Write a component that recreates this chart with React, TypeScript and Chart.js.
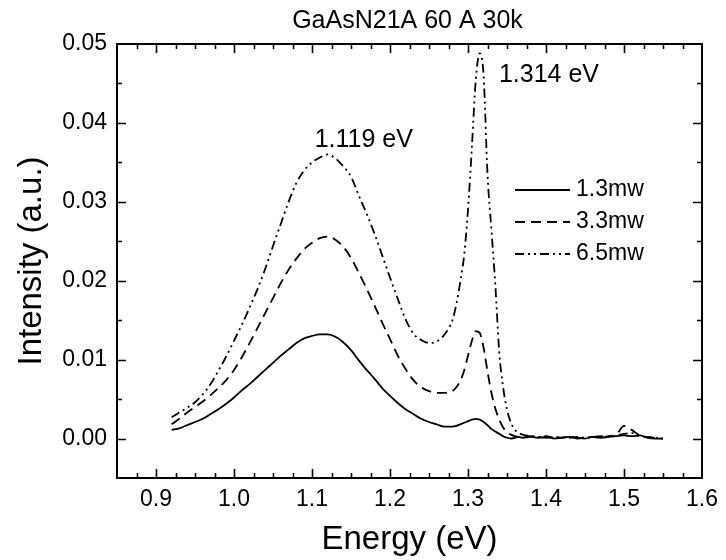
import React, { useEffect, useRef } from "react";
import { Chart, registerables } from "chart.js";

Chart.register(...registerables);

// Photon energy (eV); denser sampling across the sharp 1.31 eV line
const energy = [
  0.92, 0.93, 0.94, 0.95, 0.96, 0.97, 0.98, 0.99, 1.0, 1.01,
  1.02, 1.03, 1.04, 1.05, 1.06, 1.07, 1.08, 1.09, 1.1, 1.11,
  1.12, 1.13, 1.14, 1.15, 1.16, 1.17, 1.18, 1.19, 1.2, 1.21,
  1.22, 1.23, 1.24, 1.25, 1.26, 1.27, 1.28, 1.285, 1.29, 1.295,
  1.3, 1.305, 1.31, 1.315, 1.32, 1.325, 1.33, 1.335, 1.34, 1.345,
  1.35, 1.355, 1.36, 1.365, 1.37, 1.38, 1.39, 1.4, 1.41, 1.42,
  1.43, 1.44, 1.45, 1.46, 1.47, 1.48, 1.49, 1.5, 1.51, 1.52,
  1.53, 1.54, 1.55,
];

// PL intensity (a.u.) at 1.3 mW
const pl13 = [
  0.0011, 0.0013, 0.0017, 0.0021, 0.0025, 0.0031, 0.0037, 0.0044, 0.0052, 0.0061,
  0.0069, 0.0078, 0.0087, 0.0096, 0.0105, 0.0113, 0.0121, 0.0127, 0.013, 0.0132,
  0.0132, 0.0129, 0.0122, 0.0112, 0.0099, 0.0087, 0.0076, 0.0064, 0.0054, 0.0045,
  0.0037, 0.0031, 0.0025, 0.0021, 0.0018, 0.0015, 0.0015, 0.0016, 0.0018, 0.002,
  0.0022, 0.0024, 0.0025, 0.0024, 0.0021, 0.0017, 0.0012, 0.0009, 0.0006, 0.0003,
  0.0001, 0.0, 0.0001, 0.0002, 0.0001, 0.0002, 0.0001, 0.0002, 0.0, 0.0001,
  0.0002, 0.0001, 0.0, 0.0002, 0.0001, 0.0002, 0.0003, 0.0004, 0.0003, 0.0004,
  0.0001, 0.0, 0.0,
];

// PL intensity (a.u.) at 3.3 mW
const pl33 = [
  0.0018, 0.0025, 0.0033, 0.004, 0.0047, 0.0055, 0.0064, 0.0074, 0.0087, 0.0103,
  0.0121, 0.014, 0.0159, 0.0178, 0.0197, 0.0214, 0.0228, 0.024, 0.0248, 0.0254,
  0.0256, 0.0252, 0.0243, 0.0229, 0.021, 0.019, 0.0169, 0.0147, 0.0126, 0.0105,
  0.0088, 0.0074, 0.0065, 0.006, 0.0058, 0.0058, 0.006, 0.0065, 0.0073, 0.0086,
  0.0105, 0.0124, 0.0136, 0.0134, 0.0115, 0.0085, 0.0058, 0.0038, 0.0024, 0.0014,
  0.0008, 0.0005, 0.0003, 0.0002, 0.0002, 0.0003, 0.0002, 0.0001, 0.0002, 0.0001,
  0.0002, 0.0, 0.0001, 0.0002, 0.0001, 0.0003, 0.0005, 0.0016, 0.0011, 0.0004,
  0.0002, 0.0001, 0.0,
];

// PL intensity (a.u.) at 6.5 mW
const pl65 = [
  0.0027, 0.0033, 0.0039, 0.0046, 0.0056, 0.0069, 0.0086, 0.0104, 0.0124, 0.0144,
  0.0166, 0.0189, 0.0215, 0.0244, 0.0272, 0.03, 0.0324, 0.034, 0.035, 0.0356,
  0.036, 0.0355, 0.0345, 0.0332, 0.0308, 0.0285, 0.026, 0.0232, 0.0204, 0.0177,
  0.0151, 0.0133, 0.0125, 0.0121, 0.0123, 0.0132, 0.015, 0.017, 0.0198, 0.0232,
  0.029, 0.037, 0.0455, 0.0488, 0.046, 0.0335, 0.0265, 0.0195, 0.011, 0.0065,
  0.0037, 0.002, 0.0011, 0.0007, 0.0005, 0.0003, 0.0002, 0.0003, 0.0001, 0.0002,
  0.0001, 0.0002, 0.0001, 0.0002, 0.0003, 0.0002, 0.0004, 0.0006, 0.0007, 0.0003,
  0.0002, 0.0001, 0.0,
];

const seriesLabels = ["1.3mw", "3.3mw", "6.5mw"];
const peakEnergies = [1.119, 1.314];
const peakIntensities = [0.036, 0.0488];
const peakTexts = ["1.119 eV", "1.314 eV"];
const chartTitle = "GaAsN21A 60 A 30k";

const FONT = "'Liberation Sans', Arial, Helvetica, sans-serif";
const dashStyles: number[][] = [[], [10, 6], [9, 4, 2, 4, 2, 4]];

const framePlugin = {
  id: "originFrame",
  afterDraw(chart: any) {
    const { ctx, chartArea } = chart;
    const { left, right, top, bottom } = chartArea;
    const xs = chart.scales.x;
    const ys = chart.scales.y;
    ctx.save();
    ctx.strokeStyle = "#000";
    ctx.fillStyle = "#000";

    // inward ticks on all four sides
    ctx.lineWidth = 1.6;
    ctx.setLineDash([]);
    ctx.beginPath();
    for (let i = 1; i < 30; i++) {
      const v = 0.85 + i * 0.025;
      const px = Math.round(xs.getPixelForValue(v)) + 0.5;
      const len = i % 4 === 2 ? 9 : 5;
      ctx.moveTo(px, bottom);
      ctx.lineTo(px, bottom - len);
      ctx.moveTo(px, top);
      ctx.lineTo(px, top + len);
    }
    for (let i = 1; i < 11; i++) {
      const v = -0.005 + i * 0.005;
      const py = Math.round(ys.getPixelForValue(v)) + 0.5;
      const len = i % 2 === 1 ? 9 : 5;
      ctx.moveTo(left, py);
      ctx.lineTo(left + len, py);
      ctx.moveTo(right, py);
      ctx.lineTo(right - len, py);
    }
    ctx.stroke();

    // frame
    ctx.lineWidth = 2;
    ctx.strokeRect(left, top, right - left, bottom - top);

    // title
    ctx.font = `25px ${FONT}`;
    ctx.textAlign = "center";
    ctx.textBaseline = "middle";
    ctx.fillText(chartTitle, (left + right) / 2 - 2, 21);

    // peak labels
    const offsets = [
      [37, -14],
      [70, 22],
    ];
    peakTexts.forEach((t, i) => {
      const px = xs.getPixelForValue(peakEnergies[i]);
      const py = ys.getPixelForValue(peakIntensities[i]);
      ctx.fillText(t, px + offsets[i][0], py + offsets[i][1]);
    });

    // legend
    ctx.font = `23px ${FONT}`;
    ctx.textAlign = "left";
    chart.data.datasets.forEach((ds: any, i: number) => {
      const y = top + 146 + i * 32;
      ctx.lineWidth = 1.8;
      ctx.setLineDash(ds.borderDash || []);
      ctx.beginPath();
      ctx.moveTo(right - 187, y);
      ctx.lineTo(right - 132, y);
      ctx.stroke();
      ctx.setLineDash([]);
      ctx.fillText(ds.label, right - 126, y);
    });
    ctx.restore();
  },
};

export default function App() {
  const canvasRef = useRef<HTMLCanvasElement | null>(null);

  useEffect(() => {
    const canvas = canvasRef.current;
    if (!canvas) return;
    const series = [pl13, pl33, pl65];
    const chart = new Chart(canvas, {
      type: "line",
      data: {
        datasets: series.map((vals, i) => ({
          label: seriesLabels[i],
          data: energy.map((e, k) => ({ x: e, y: vals[k] })),
          borderColor: "#000",
          borderWidth: 1.8,
          borderDash: dashStyles[i],
          pointRadius: 0,
          fill: false,
          cubicInterpolationMode: "monotone" as const,
        })),
      },
      options: {
        animation: false,
        responsive: false,
        devicePixelRatio: 1,
        layout: { padding: { top: 44, right: 22, left: 0, bottom: 0 } },
        plugins: {
          legend: { display: false },
          title: { display: false },
          tooltip: { enabled: false },
        },
        scales: {
          x: {
            type: "linear",
            min: 0.85,
            max: 1.6,
            grid: { display: false, drawTicks: false },
            border: { display: false },
            ticks: {
              stepSize: 0.1,
              includeBounds: false,
              padding: 8,
              color: "#000",
              font: { family: FONT, size: 23 },
              callback: (v: any) => Number(v).toFixed(1),
            },
            title: {
              display: true,
              text: "Energy (eV)",
              color: "#000",
              font: { family: FONT, size: 33 },
              padding: { top: 0, bottom: 0 },
            },
            afterFit: (s: any) => {
              s.height = 82;
            },
          },
          y: {
            type: "linear",
            min: -0.005,
            max: 0.05,
            grid: { display: false, drawTicks: false },
            border: { display: false },
            ticks: {
              stepSize: 0.01,
              includeBounds: false,
              padding: 10,
              color: "#000",
              font: { family: FONT, size: 23 },
              callback: (v: any) => Number(v).toFixed(2),
            },
            title: {
              display: true,
              text: "Intensity (a.u.)",
              color: "#000",
              font: { family: FONT, size: 33 },
              padding: { top: 12, bottom: 0 },
            },
            afterFit: (s: any) => {
              s.width = 117;
            },
          },
        },
      },
      plugins: [framePlugin],
    });
    return () => chart.destroy();
  }, []);

  return (
    <div style={{ position: "absolute", left: 0, top: 0, width: 726, height: 560, background: "#fff" }}>
      <canvas ref={canvasRef} width={726} height={560} style={{ display: "block", width: 726, height: 560 }} />
    </div>
  );
}
